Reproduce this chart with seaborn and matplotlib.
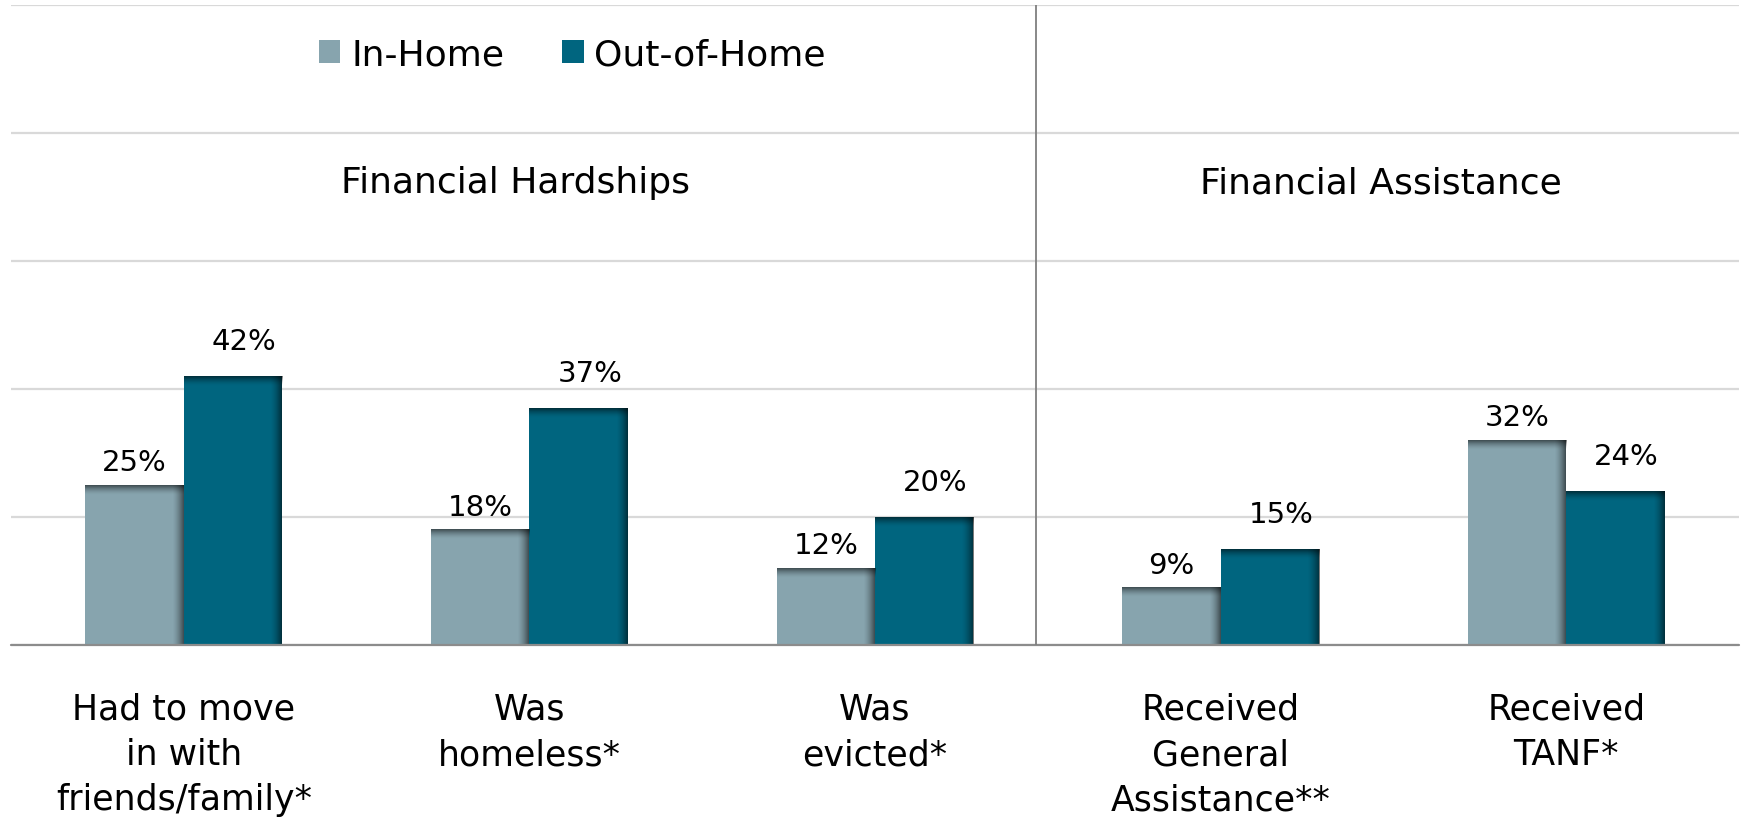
import numpy as np
import pandas as pd
import matplotlib
matplotlib.use("Agg")
import matplotlib.pyplot as plt
import seaborn as sns

# ---- data -------------------------------------------------------------
categories = [
    "Had to move\nin with\nfriends/family*",
    "Was\nhomeless*",
    "Was\nevicted*",
    "Received\nGeneral\nAssistance**",
    "Received\nTANF*",
]
in_home = [25, 18, 12, 9, 32]
out_of_home = [42, 37, 20, 15, 24]
series_names = ["In-Home", "Out-of-Home"]
group_titles = ["Financial Hardships", "Financial Assistance"]

df = pd.DataFrame({
    "category": categories * 2,
    "setting": [series_names[0]] * len(categories) + [series_names[1]] * len(categories),
    "pct": in_home + out_of_home,
})

# ---- style ------------------------------------------------------------
sns.set_theme(style="white")
plt.rcParams["font.family"] = ["DejaVu Sans"]

colors = {"In-Home": "#87A4AE", "Out-of-Home": "#00657F"}

W, H = 1745, 820
fig = plt.figure(figsize=(W / 100, H / 100), dpi=100)
ax = fig.add_axes([11 / W, 174.5 / H, 1728 / W, 640 / H])

sns.barplot(
    data=df, x="category", y="pct", hue="setting",
    order=categories, hue_order=series_names, palette=colors,
    width=0.57, errorbar=None, saturation=1, linewidth=0, ax=ax,
)

# bevel-like shading on the top and right edges of each bar
def shade_bar(bar, top_px=10, side_px=12, strength=0.55):
    x0, y0 = bar.get_x(), bar.get_y()
    w, h = bar.get_width(), bar.get_height()
    inv = ax.transData.inverted()
    p0 = inv.transform((0, 0))
    p1 = inv.transform((side_px, top_px))
    dx, dy = abs(p1[0] - p0[0]), abs(p1[1] - p0[1])
    dy = min(dy, h * 0.5)
    n = 64
    g = np.linspace(1, 0, n) ** 1.6
    top = np.zeros((n, 2, 4))
    top[..., 3] = (strength * g)[:, None]
    ax.imshow(top, extent=(x0, x0 + w, y0 + h - dy, y0 + h), origin="upper",
              aspect="auto", interpolation="bilinear", zorder=3)
    g2 = np.linspace(0, 1, n) ** 1.6
    side = np.zeros((2, n, 4))
    side[..., 3] = (strength * g2)[None, :]
    ax.imshow(side, extent=(x0 + w - dx, x0 + w, y0, y0 + h), origin="upper",
              aspect="auto", interpolation="bilinear", zorder=3)

ax.set_xlim(-0.5, len(categories) - 0.5)
ax.set_ylim(0, 100)
fig.canvas.draw()
for container in ax.containers:
    for bar in container:
        shade_bar(bar)

# ---- axes cosmetics ---------------------------------------------------
ax.set_xlim(-0.5, len(categories) - 0.5)
ax.set_ylim(0, 100)
ax.set_yticks([0, 20, 40, 60, 80, 100])
ax.set_yticklabels([])
ax.tick_params(axis="y", length=0)
ax.yaxis.grid(True, color="#D9D9D9", linewidth=1.6)
ax.set_axisbelow(True)
for s in ax.spines.values():
    s.set_visible(False)
ax.axhline(0, color="#8C8C8C", linewidth=1.6, zorder=4, clip_on=False)
ax.axvline(2.466, color="#7F7F7F", linewidth=1.3, zorder=4)

ax.set_xlabel("")
ax.set_ylabel("")
ax.tick_params(axis="x", length=0, pad=34)
ax.set_xticks(range(len(categories)))
ax.set_xticklabels(categories, fontsize=25, color="black",
                   linespacing=1.42, va="top")

# group headings
ax.text(0.96, 72.2, group_titles[0], ha="center", va="center",
        fontsize=26, color="black")
ax.text(3.464, 72.2, group_titles[1], ha="center", va="center",
        fontsize=26, color="black")

# value labels
for container, vals, (dx, dy) in zip(ax.containers, [in_home, out_of_home],
                                     [(0, 6), (8, 15)]):
    for bar, v in zip(container, vals):
        ax.annotate(f"{v}%", (bar.get_x() + bar.get_width() / 2, v),
                    xytext=(dx, dy), textcoords="offset points",
                    ha="center", va="bottom", fontsize=21, color="black",
                    zorder=5)

# legend
leg = ax.legend(
    loc="center", bbox_to_anchor=(0.328, 1 - 55 / H),
    bbox_transform=fig.transFigure, ncol=2, frameon=False,
    fontsize=26, handlelength=0.6, handleheight=0.6,
    handletextpad=0.3, columnspacing=1.6,
)
for t in leg.get_texts():
    t.set_color("black")

fig.savefig("out.png", dpi=100)
